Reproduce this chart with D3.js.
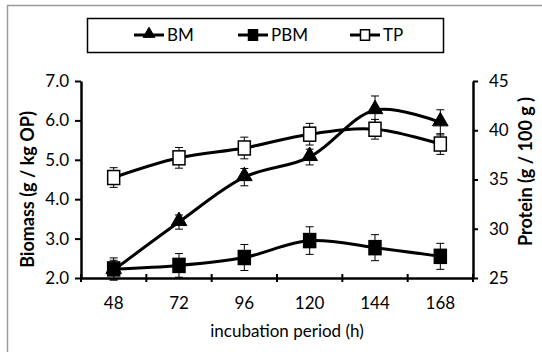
<!DOCTYPE html>
<html>
<head>
<meta charset="utf-8">
<script src="https://cdn.jsdelivr.net/npm/d3@7"></script>
<style>
  body { margin: 0; background: #fff; }
  svg text { font-family: Lato, "Open Sans", sans-serif; }
</style>
</head>
<body>
<div id="chart"></div>
<script>
// incubation period (h)
var hours = ["48", "72", "96", "120", "144", "168"];
// biomass, g / kg OP (left axis)
var bm = [2.2, 3.42, 4.56, 5.07, 6.26, 5.95];
var bmErr = [0.25, 0.18, 0.22, 0.2, 0.36, 0.32];
var pbm = [2.23, 2.32, 2.52, 2.95, 2.77, 2.55];
var pbmErr = [0.28, 0.3, 0.33, 0.35, 0.33, 0.33];
// protein, g / 100 g (right axis)
var tp = [35.2, 37.2, 38.2, 39.6, 40.1, 38.6];
var tpErr = [1.0, 1.05, 1.1, 1.1, 1.0, 1.05];
var leftTicks = [2, 3, 4, 5, 6, 7];
var rightTicks = [25, 30, 35, 40, 45];

var W = 542, H = 352;
var margin = {top: 81, right: 69, bottom: 74, left: 81},
    width = W - margin.left - margin.right,
    height = H - margin.top - margin.bottom;

var root = d3.select("#chart").append("svg")
  .attr("width", W).attr("height", H);

// outer frame
root.append("rect")
  .attr("x", 7.5).attr("y", 5.5).attr("width", 560).attr("height", 380)
  .attr("fill", "none").attr("stroke", "#9a9a9a").attr("stroke-width", 1.5);

var svg = root.append("g")
  .attr("transform", "translate(" + margin.left + "," + margin.top + ")");

var x = d3.scaleBand().domain(hours).range([0, width]);
var yL = d3.scaleLinear().domain([2, 7]).range([height, 0]);
var yR = d3.scaleLinear().domain([25, 45]).range([height, 0]);
var cx = function(i) { return x(hours[i]) + x.bandwidth() / 2; };

// axes
var xAxis = svg.append("g")
  .attr("transform", "translate(0," + height + ")")
  .call(d3.axisBottom(x).tickSize(5).tickPadding(14).tickSizeOuter(0));
// ticks between categories like excel
xAxis.selectAll(".tick line").remove();
svg.append("g").selectAll("line")
  .data(d3.range(hours.length + 1))
  .enter().append("line")
  .attr("x1", function(d) { return d * x.bandwidth(); })
  .attr("x2", function(d) { return d * x.bandwidth(); })
  .attr("y1", height - 4).attr("y2", height + 4)
  .attr("stroke", "#000").attr("stroke-width", 2);

var lAxis = svg.append("g")
  .call(d3.axisLeft(yL).tickValues(leftTicks).tickFormat(d3.format(".1f")).tickSize(6).tickPadding(6).tickSizeOuter(0));
var rAxis = svg.append("g")
  .attr("transform", "translate(" + width + ",0)")
  .call(d3.axisRight(yR).tickValues(rightTicks).tickSize(5).tickPadding(11).tickSizeOuter(0));

[xAxis, lAxis, rAxis].forEach(function(a) {
  a.select(".domain").attr("stroke", "#000").attr("stroke-width", 2.5);
  a.selectAll(".tick line").attr("stroke", "#000").attr("stroke-width", 2);
  a.selectAll("text").attr("font-size", "17px").attr("fill", "#000")
    .style("font-family", "Lato, 'Open Sans', sans-serif");
});

// axis titles
svg.append("text")
  .attr("x", width / 2 + 10).attr("y", height + 59)
  .attr("text-anchor", "middle").attr("font-size", "17px")
  .text("incubation period (h)");
svg.append("text")
  .attr("transform", "translate(-47," + (height / 2 + 10) + ") rotate(-90)")
  .attr("text-anchor", "middle").attr("font-size", "18px").attr("font-weight", "bold")
  .text("Biomass (g / kg OP)");
svg.append("text")
  .attr("transform", "translate(" + (width + 59) + "," + (height / 2 - 8) + ") rotate(-90)")
  .attr("text-anchor", "middle").attr("font-size", "18px").attr("font-weight", "bold")
  .text("Protein (g / 100 g )");

// series
var series = [
  {name: "BM", vals: bm, err: bmErr, y: yL, shape: "tri", fill: "#000"},
  {name: "PBM", vals: pbm, err: pbmErr, y: yL, shape: "sq", fill: "#000"},
  {name: "TP", vals: tp, err: tpErr, y: yR, shape: "sq", fill: "#fff"}
];

var line = d3.line().curve(d3.curveCatmullRom.alpha(0.5));

series.forEach(function(s) {
  var g = svg.append("g");
  // error bars
  s.vals.forEach(function(v, i) {
    var x0 = cx(i), y1 = s.y(v + s.err[i]), y2 = s.y(v - s.err[i]);
    g.append("line").attr("x1", x0).attr("x2", x0).attr("y1", y1).attr("y2", y2)
      .attr("stroke", "#000").attr("stroke-width", 1);
    [y1, y2].forEach(function(yy) {
      g.append("line").attr("x1", x0 - 4).attr("x2", x0 + 4).attr("y1", yy).attr("y2", yy)
        .attr("stroke", "#000").attr("stroke-width", 1);
    });
  });
  g.append("path")
    .attr("d", line(s.vals.map(function(v, i) { return [cx(i), s.y(v)]; })))
    .attr("fill", "none").attr("stroke", "#000").attr("stroke-width", 3);
});

function drawMarker(g, shape, fill, px, py, small) {
  var k = small ? 0.75 : 1;
  if (shape === "tri") {
    g.append("path")
      .attr("d", d3.symbol().type(d3.symbolTriangle).size(105 * k * k)())
      .attr("transform", "translate(" + px + "," + (py - 1) + ")")
      .attr("fill", fill).attr("stroke", "#000").attr("stroke-width", 1);
  } else {
    g.append("rect")
      .attr("x", px - 6 * k).attr("y", py - 7 * k)
      .attr("width", 12 * k).attr("height", 14 * k)
      .attr("fill", fill).attr("stroke", "#000").attr("stroke-width", 1.5);
  }
}

series.forEach(function(s) {
  var g = svg.append("g");
  s.vals.forEach(function(v, i) { drawMarker(g, s.shape, s.fill, cx(i), s.y(v), false); });
});

// legend
var lg = root.append("g");
lg.append("rect")
  .attr("x", 87.5).attr("y", 18.5).attr("width", 356).attr("height", 34)
  .attr("fill", "#fff").attr("stroke", "#000").attr("stroke-width", 1.5);
var legX = [134, 238, 350];
series.forEach(function(s, i) {
  var lx = legX[i], ly = 35;
  lg.append("line").attr("x1", lx).attr("x2", lx + 30).attr("y1", ly).attr("y2", ly)
    .attr("stroke", "#000").attr("stroke-width", 3);
  drawMarker(lg, s.shape, s.fill, lx + 15, ly, true);
  lg.append("text").attr("x", lx + 33).attr("y", ly + 6)
    .attr("font-size", "17px").text(s.name);
});
</script>
</body>
</html>
